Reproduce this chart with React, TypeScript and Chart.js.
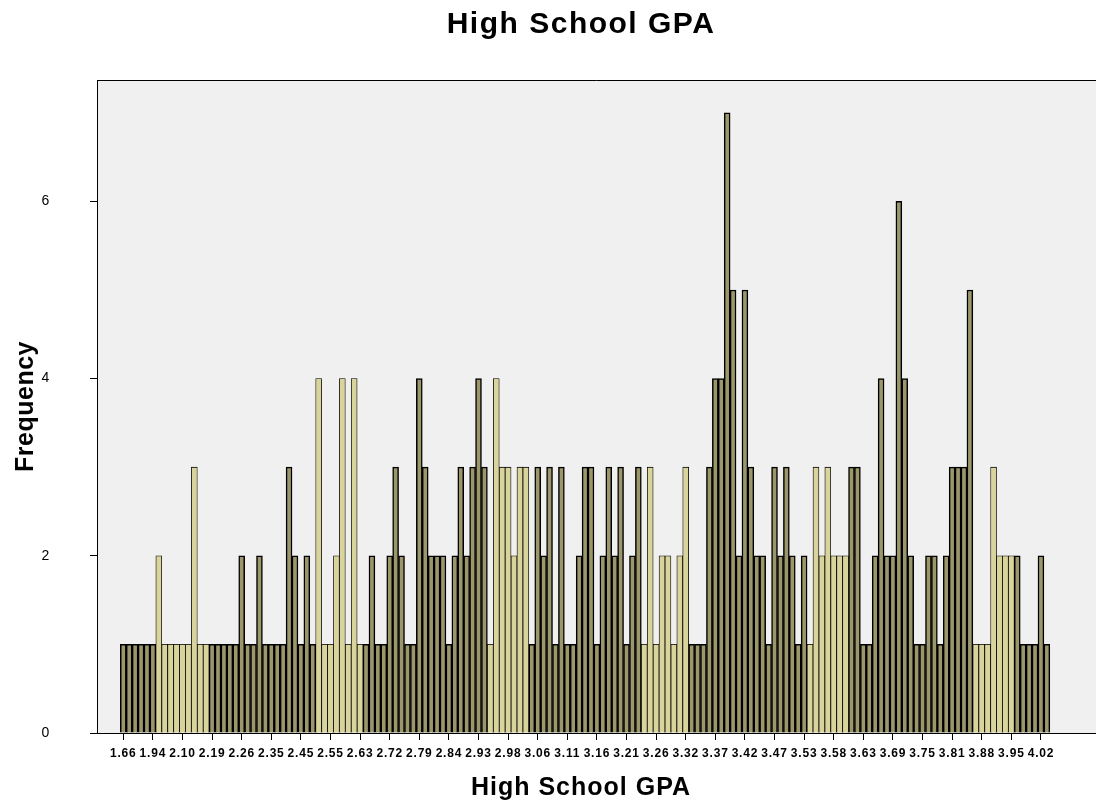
import React, { useEffect, useRef } from 'react';
import { Chart, registerables } from 'chart.js';

Chart.register(...registerables);

// Frequency of each High School GPA value (one bar per distinct value, left to right)
const frequencies: number[] = [
  1, 1, 1, 1, 1, 1, 2, 1, 1, 1, 1, 1, 3, 1, 1, 1, 1, 1, 1, 1,
  2, 1, 1, 2, 1, 1, 1, 1, 3, 2, 1, 2, 1, 4, 1, 1, 2, 4, 1, 4,
  1, 1, 2, 1, 1, 2, 3, 2, 1, 1, 4, 3, 2, 2, 2, 1, 2, 3, 2, 3,
  4, 3, 1, 4, 3, 3, 2, 3, 3, 1, 3, 2, 3, 1, 3, 1, 1, 2, 3, 3,
  1, 2, 3, 2, 3, 1, 2, 3, 1, 3, 1, 2, 2, 1, 2, 3, 1, 1, 1, 3,
  4, 4, 7, 5, 2, 5, 3, 2, 2, 1, 3, 2, 3, 2, 1, 2, 1, 3, 2, 3,
  2, 2, 2, 3, 3, 1, 1, 2, 4, 2, 2, 6, 4, 2, 1, 1, 2, 2, 1, 2,
  3, 3, 3, 5, 1, 1, 1, 3, 2, 2, 2, 2, 1, 1, 1, 2, 1,
];

// Category labels shown every fifth bar
const tickLabels: string[] = [
  '1.66', '1.94', '2.10', '2.19', '2.26', '2.35', '2.45', '2.55', '2.63', '2.72', '2.79',
  '2.84', '2.93', '2.98', '3.06', '3.11', '3.16', '3.21', '3.26', '3.32', '3.37', '3.42',
  '3.47', '3.53', '3.58', '3.63', '3.69', '3.75', '3.81', '3.88', '3.95', '4.02',
];
const labelEvery = 5;
const yTickValues: number[] = [0, 2, 4, 6];

const chartTitle = 'High School GPA';
const xTitle = 'High School GPA';
const yTitle = 'Frequency';

// Style only: bands where the bars render light (moiré look of the original)
const lightBands: [number, number][] = [[6, 14], [33, 40], [62, 68], [88, 95], [116, 122], [144, 150]];

const FONT = '"Liberation Sans", Arial, Helvetica, sans-serif';

export default function App() {
  const ref = useRef<HTMLCanvasElement>(null);

  useEffect(() => {
    document.body.style.margin = '0';
    const canvas = ref.current;
    if (!canvas) return;

    const isLight = (i: number) => lightBands.some(([a, b]) => i >= a && i <= b);
    const fills = frequencies.map((_, i) => (isLight(i) ? '#d9d39c' : '#9c976a'));
    const borders = frequencies.map((_, i) => (isLight(i) ? 0.8 : 1.5));

    const plotBg = {
      id: 'plotBg',
      beforeDraw(chart: any) {
        const { left, top, right, bottom } = chart.chartArea;
        const c = chart.ctx;
        c.save();
        c.fillStyle = '#f0f0f0';
        c.fillRect(left, top, right - left, bottom - top);
        c.strokeStyle = '#000';
        c.lineWidth = 1;
        c.beginPath();
        c.moveTo(left + 0.5, bottom);
        c.lineTo(left + 0.5, top + 0.5);
        c.lineTo(right, top + 0.5);
        c.stroke();
        c.restore();
        (c as any).letterSpacing = '0.8px';
      },
    };

    const texts = {
      id: 'texts',
      afterDraw(chart: any) {
        const c = chart.ctx;
        const { top, bottom } = chart.chartArea;
        c.save();
        c.fillStyle = '#000';
        c.textAlign = 'center';
        c.textBaseline = 'middle';
        (c as any).letterSpacing = '1.5px';
        c.font = `bold 30px ${FONT}`;
        c.fillText(chartTitle, 581, 25);
        (c as any).letterSpacing = '1px';
        c.font = `bold 25px ${FONT}`;
        c.fillText(xTitle, 581, 788);
        c.translate(26, (top + bottom) / 2);
        c.rotate(-Math.PI / 2);
        (c as any).letterSpacing = '0.5px';
        c.fillText(yTitle, 0, 0);
        c.restore();
        (c as any).letterSpacing = '0px';
      },
    };

    const chart = new Chart(canvas, {
      type: 'bar',
      data: {
        datasets: [
          {
            data: frequencies.map((v, i) => ({ x: i, y: v })) as any,
            backgroundColor: fills,
            borderColor: '#000000',
            borderWidth: borders as any,
            borderSkipped: 'bottom',
            barPercentage: 1,
            categoryPercentage: 1,
          },
        ],
      },
      options: {
        animation: false,
        responsive: false,
        devicePixelRatio: 1,
        layout: { padding: { top: 80, left: 0, right: 0, bottom: 0 } },
        plugins: {
          legend: { display: false },
          tooltip: { enabled: false },
          title: { display: false },
        },
        scales: {
          x: {
            type: 'linear',
            min: -4.44,
            max: 164.3,
            offset: false,
            grid: { display: true, offset: false, drawOnChartArea: false, drawTicks: true, tickLength: 7, color: '#000' },
            border: { display: true, color: '#000', width: 1 },
            ticks: {
              autoSkip: false,
              maxRotation: 0,
              minRotation: 0,
              padding: 6,
              color: '#000',
              font: { family: FONT, size: 12, weight: 'bold' },
              callback: (v: any) => {
                const j = Math.round(Number(v) / labelEvery);
                return tickLabels[j] ?? '';
              },
            },
            afterBuildTicks: (s: any) => {
              s.ticks = tickLabels.map((_, j) => ({ value: j * labelEvery }));
            },
            afterFit: (s: any) => {
              s.height = 68;
            },
          },
          y: {
            min: 0,
            max: 7.37,
            grid: { display: true, drawOnChartArea: false, drawTicks: true, tickLength: 7, color: '#000' },
            border: { display: true, color: '#000', width: 1 },
            ticks: {
              padding: 40,
              color: '#000',
              font: { family: FONT, size: 14 },
            },
            afterBuildTicks: (s: any) => {
              s.ticks = yTickValues.map((v) => ({ value: v }));
            },
            afterFit: (s: any) => {
              s.width = 97;
            },
          },
        },
      },
      plugins: [plotBg, texts],
    });

    return () => chart.destroy();
  }, []);

  return (
    <div style={{ width: 1096, height: 801, background: '#fff' }}>
      <canvas ref={ref} width={1096} height={801} style={{ display: 'block' }} />
    </div>
  );
}
